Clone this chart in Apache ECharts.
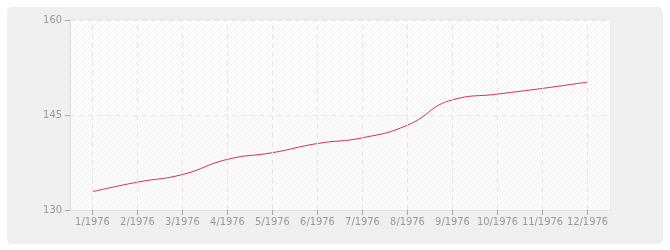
<!DOCTYPE html>
<html><head><meta charset="utf-8">
<script src="https://cdn.jsdelivr.net/npm/echarts@6/dist/echarts.min.js"></script>
<style>html,body{margin:0;padding:0;background:#fff}#c{width:670px;height:250px}</style>
</head><body><div id="c"></div>
<script>
const categories = ['1/1976','2/1976','3/1976','4/1976','5/1976','6/1976','7/1976','8/1976','9/1976','10/1976','11/1976','12/1976'];
const values = [132.9, 134.4, 135.6, 138.0, 139.05, 140.5, 141.4, 143.4, 147.4, 148.3, 149.2, 150.2];
const yTicks = [130, 145, 160];

function hatch(bg, fg) {
  const c = document.createElement('canvas');
  c.width = 4; c.height = 4;
  const g = c.getContext('2d');
  g.fillStyle = bg; g.fillRect(0, 0, 4, 4);
  g.strokeStyle = fg; g.lineWidth = 1;
  g.beginPath();
  g.moveTo(0, 4); g.lineTo(4, 0);
  g.moveTo(-1, 1); g.lineTo(1, -1);
  g.moveTo(3, 5); g.lineTo(5, 3);
  g.stroke();
  return { image: c, repeat: 'repeat' };
}

const chart = echarts.init(document.getElementById('c'), null, { renderer: 'canvas' });
const txt = { color: '#999', fontSize: 11, fontFamily: '"DejaVu Sans Condensed", "Liberation Sans", sans-serif' };
chart.setOption({
  animation: false,
  graphic: [{ type: 'rect', z: -10, silent: true, shape: { x: 7, y: 7, width: 656, height: 237, r: 5 }, style: { fill: '#efefef' } }],
  grid: { left: 70, right: 60, top: 20, bottom: 40, show: true, backgroundColor: '#fff', borderColor: '#e4e4e4', borderWidth: 1 },
  xAxis: {
    type: 'category', data: categories, boundaryGap: true,
    axisLine: { show: true, lineStyle: { color: '#e0e0e0' } },
    axisTick: { show: true, alignWithLabel: true, interval: 0, length: 5, lineStyle: { color: '#aaa' } },
    axisLabel: Object.assign({ margin: 7, interval: 0 }, txt),
    splitLine: { show: false }
  },
  yAxis: {
    type: 'value', min: yTicks[0], max: yTicks[yTicks.length - 1], interval: yTicks[1] - yTicks[0],
    axisLine: { show: true, lineStyle: { color: '#e0e0e0' } },
    axisTick: { show: true, length: 5, lineStyle: { color: '#aaa' } },
    axisLabel: Object.assign({ margin: 8 }, txt),
    splitLine: { show: true, lineStyle: { color: '#e4e4e4', type: [5, 4] } },
    splitArea: { show: true, areaStyle: { color: [hatch('#fbfbfb', '#f3f3f3'), hatch('#ffffff', '#efefef')] } }
  },
  series: [{
    type: 'line', data: values, smooth: 0.5, symbol: 'none',
    lineStyle: { color: '#d8334a', width: 1 },
    markLine: {
      silent: true, symbol: 'none', label: { show: false }, animation: false,
      lineStyle: { color: '#e4e4e4', type: [5, 4], width: 1 },
      data: categories.map(c => ({ xAxis: c }))
    }
  }]
});
</script></body></html>
